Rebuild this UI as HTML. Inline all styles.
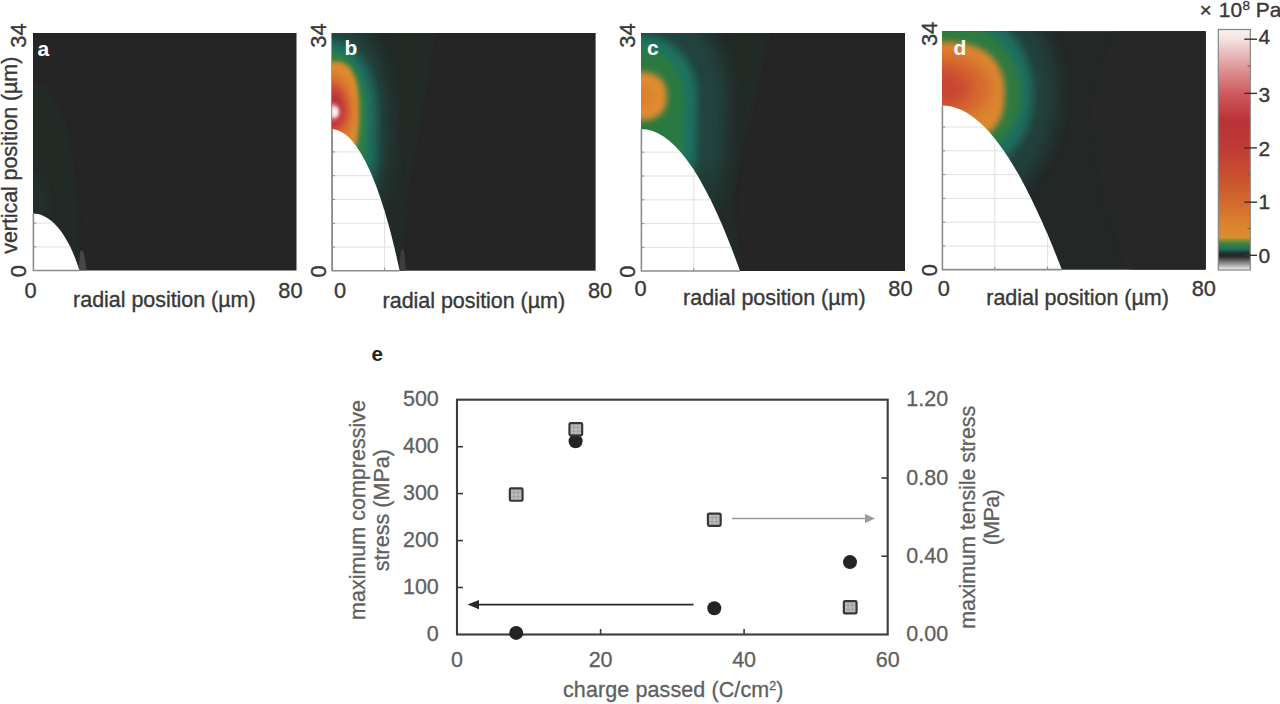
<!DOCTYPE html>
<html><head><meta charset="utf-8"><title>figure</title>
<style>
html,body{margin:0;padding:0;background:#fff;}
body{width:1280px;height:704px;overflow:hidden;font-family:"Liberation Sans",sans-serif;}
svg{display:block;position:absolute;left:0;top:0;}
text{font-family:"Liberation Sans",sans-serif;}
.t{font-size:21px;fill:#383838;stroke:#383838;stroke-width:0.35;}
.tk{font-size:21.8px;fill:#383838;stroke:#383838;stroke-width:0.35;}
.tt{font-size:21.5px;fill:#383838;stroke:#383838;stroke-width:0.35;}
.g{font-size:21.5px;fill:#606060;stroke:#606060;stroke-width:0.3;}
.pl{font-size:21px;font-weight:bold;fill:#fff;}
.grid{stroke:#e2e2e2;stroke-width:1;fill:none;}
.ax{stroke:#8c8c8c;stroke-width:1.6;fill:none;}
</style></head><body>
<svg width="1280" height="704" viewBox="0 0 1280 704">
<defs>
<clipPath id="ca"><rect x="33" y="33" width="263.5" height="237.5"/></clipPath>
<clipPath id="cb"><rect x="331.8" y="33" width="263.8" height="237.7"/></clipPath>
<clipPath id="cc"><rect x="641" y="33" width="264.0" height="238.0"/></clipPath>
<clipPath id="cd"><rect x="942" y="31.3" width="263.6" height="238.1"/></clipPath>
<clipPath id="domea"><path d="M33,213.6 C48.5,213.6 66.9,230.1 79.4,270.5 L33,270.5 Z"/></clipPath>
<clipPath id="domeb"><path d="M331.8,129.2 C354.4,129.2 379.0,173.4 399.6,270.7 L331.8,270.7 Z"/></clipPath>
<clipPath id="domec"><path d="M641,129 C674.0,129 706.5,176.8 740.0,271 L641,271 Z"/></clipPath>
<clipPath id="domed"><path d="M942,105.4 C981.9,105.4 1020.4,162.1 1061.8,269.6 L942,269.6 Z"/></clipPath>
<filter id="b05" x="-50%" y="-50%" width="200%" height="200%"><feGaussianBlur stdDeviation="0.5"/></filter>
<filter id="b1" x="-50%" y="-50%" width="200%" height="200%"><feGaussianBlur stdDeviation="0.8"/></filter>
<filter id="b15" x="-50%" y="-50%" width="200%" height="200%"><feGaussianBlur stdDeviation="1.5"/></filter>
<filter id="b2" x="-50%" y="-50%" width="200%" height="200%"><feGaussianBlur stdDeviation="2"/></filter>
<filter id="b3" x="-50%" y="-50%" width="200%" height="200%"><feGaussianBlur stdDeviation="3"/></filter>
<filter id="b4" x="-50%" y="-50%" width="200%" height="200%"><feGaussianBlur stdDeviation="4"/></filter>
<filter id="b6" x="-50%" y="-50%" width="200%" height="200%"><feGaussianBlur stdDeviation="6"/></filter>
<filter id="b8" x="-50%" y="-50%" width="200%" height="200%"><feGaussianBlur stdDeviation="8"/></filter>
<filter id="b14" x="-50%" y="-50%" width="200%" height="200%"><feGaussianBlur stdDeviation="14"/></filter>
<linearGradient id="fgb" gradientUnits="userSpaceOnUse" x1="0" y1="160" x2="0" y2="222"><stop offset="0" stop-color="#fff"/><stop offset="1" stop-color="#000"/></linearGradient>
<mask id="mb" maskUnits="userSpaceOnUse" x="300" y="0" width="320" height="320"><rect x="300" y="0" width="320" height="320" fill="url(#fgb)"/></mask>
<linearGradient id="fgc" gradientUnits="userSpaceOnUse" x1="0" y1="158" x2="0" y2="232"><stop offset="0" stop-color="#fff"/><stop offset="1" stop-color="#000"/></linearGradient>
<mask id="mc" maskUnits="userSpaceOnUse" x="600" y="0" width="320" height="320"><rect x="600" y="0" width="320" height="320" fill="url(#fgc)"/></mask>
<linearGradient id="cbar" x1="0" y1="0" x2="0" y2="1">
<stop offset="0" stop-color="#f9f1f1"/>
<stop offset="0.04" stop-color="#f4e1e1"/>
<stop offset="0.154" stop-color="#e09a9c"/>
<stop offset="0.266" stop-color="#cf5a5e"/>
<stop offset="0.378" stop-color="#b93238"/>
<stop offset="0.49" stop-color="#c03a35"/>
<stop offset="0.606" stop-color="#c85030"/>
<stop offset="0.718" stop-color="#d2692e"/>
<stop offset="0.813" stop-color="#dc832e"/>
<stop offset="0.866" stop-color="#da8e2f"/>
<stop offset="0.884" stop-color="#4f8a3a"/>
<stop offset="0.897" stop-color="#2f7f45"/>
<stop offset="0.915" stop-color="#1f6a5c"/>
<stop offset="0.93" stop-color="#22302e"/>
<stop offset="0.942" stop-color="#252525"/>
<stop offset="0.95" stop-color="#3c3c3c"/>
<stop offset="1" stop-color="#f4f4f4"/>
</linearGradient>
</defs>
<!-- panel a -->
<rect x="33" y="33" width="263.5" height="237.5" fill="#252525"/>
<g clip-path="url(#ca)">
<path d="M25,81 L33,81 Q55,86 67,130 Q76,172 78,240 L79,280 L25,280 Z" fill="#222928" filter="url(#b2)"/>
<path d="M48.0,206.0 L47.9,208.1 L47.5,210.1 L46.9,212.1 L46.0,214.0 L44.9,215.7 L43.6,217.3 L42.1,218.7 L40.5,219.9 L38.7,220.8 L36.9,221.5 L35.0,221.9 L33.0,222.0 L31.0,221.9 L29.1,221.5 L27.3,220.8 L25.5,219.9 L23.9,218.7 L22.4,217.3 L21.1,215.7 L20.0,214.0 L19.1,212.1 L18.5,210.1 L18.1,208.1 L18.0,206.0 L18.1,201.8 L18.5,197.7 L19.1,193.8 L20.0,190.0 L21.1,186.5 L22.4,183.4 L23.9,180.6 L25.5,178.3 L27.3,176.4 L29.1,175.1 L31.0,174.3 L33.0,174.0 L35.0,174.3 L36.9,175.1 L38.7,176.4 L40.5,178.3 L42.1,180.6 L43.6,183.4 L44.9,186.5 L46.0,190.0 L46.9,193.8 L47.5,197.7 L47.9,201.8 Z" fill="#202f2c" filter="url(#b4)"/>
<path d="M78.5,270.5 L80,252 Q82.5,247 84.5,256 L86.5,270.5 Z" fill="#474747" filter="url(#b05)"/>
</g>
<path d="M33,213.6 C48.5,213.6 66.9,230.1 79.4,270.5 L33,270.5 Z" fill="#fff"/>
<g clip-path="url(#domea)">
<line class="grid" x1="33" y1="246.9" x2="79.4" y2="246.9"/>
<line x1="33" y1="246.9" x2="36.2" y2="246.9" stroke="#8a8a8a" stroke-width="1"/>
<line class="grid" x1="33" y1="223.1" x2="79.4" y2="223.1"/>
<line x1="33" y1="223.1" x2="36.2" y2="223.1" stroke="#8a8a8a" stroke-width="1"/>
</g>
<path class="ax" d="M33.4,213.6 L33.4,270.5 L79.4,270.5"/>
<text class="tk" x="30.5" y="298.0" text-anchor="middle">0</text>
<text class="tk" x="290.4" y="298.0" text-anchor="middle">80</text>
<text class="tt" x="73.1" y="307.2" textLength="182.5" lengthAdjust="spacing">radial position (µm)</text>
<text class="tk" transform="translate(26.0,35.6) rotate(-90)" text-anchor="middle">34</text>
<text class="tk" transform="translate(26.0,271.3) rotate(-90)" text-anchor="middle">0</text>
<text class="pl" x="37.5" y="56">a</text>
<!-- panel b -->
<rect x="331.8" y="33" width="263.8" height="237.7" fill="#252525"/>
<g clip-path="url(#cb)">
<path d="M320,20 L436,20 L426,90 L406,200 L401,280 L320,280 Z" fill="#232a28" filter="url(#b2)"/>
<g mask="url(#mb)">
<path d="M388.8,113.5 L388.3,152.7 L386.9,191.1 L384.5,228.3 L381.2,263.5 L377.0,296.1 L372.1,325.6 L366.5,351.5 L360.3,373.3 L353.6,390.7 L346.6,403.3 L339.2,410.9 L331.8,413.5 L324.4,410.9 L317.0,403.3 L310.0,390.7 L303.3,373.3 L297.1,351.5 L291.5,325.6 L286.6,296.1 L282.4,263.5 L279.1,228.3 L276.7,191.1 L275.3,152.7 L274.8,113.5 L275.3,100.7 L276.7,88.1 L279.1,76.0 L282.4,64.5 L286.6,53.8 L291.5,44.2 L297.1,35.8 L303.3,28.6 L310.0,23.0 L317.0,18.8 L324.4,16.3 L331.8,15.5 L339.2,16.3 L346.6,18.8 L353.6,23.0 L360.3,28.6 L366.5,35.8 L372.1,44.2 L377.0,53.8 L381.2,64.5 L384.5,76.0 L386.9,88.1 L388.3,100.7 Z" fill="#21423c" filter="url(#b8)"/>
<path d="M376.8,113.5 L376.4,152.7 L375.3,191.1 L373.4,228.3 L370.8,263.5 L367.5,296.1 L363.6,325.6 L359.2,351.5 L354.3,373.3 L349.0,390.7 L343.4,403.3 L337.7,410.9 L331.8,413.5 L325.9,410.9 L320.2,403.3 L314.6,390.7 L309.3,373.3 L304.4,351.5 L300.0,325.6 L296.1,296.1 L292.8,263.5 L290.2,228.3 L288.3,191.1 L287.2,152.7 L286.8,113.5 L287.2,104.0 L288.3,94.6 L290.2,85.6 L292.8,77.0 L296.1,69.1 L300.0,61.9 L304.4,55.6 L309.3,50.3 L314.6,46.1 L320.2,43.0 L325.9,41.1 L331.8,40.5 L337.7,41.1 L343.4,43.0 L349.0,46.1 L354.3,50.3 L359.2,55.6 L363.6,61.9 L367.5,69.1 L370.8,77.0 L373.4,85.6 L375.3,94.6 L376.4,104.0 Z" fill="#1f6e60" filter="url(#b4)"/>
<path d="M366.8,113.5 L366.5,129.7 L365.6,145.6 L364.1,161.0 L362.1,175.5 L359.6,189.0 L356.5,201.2 L353.1,211.9 L349.3,220.9 L345.2,228.1 L340.9,233.3 L336.4,236.4 L331.8,237.5 L327.2,236.4 L322.7,233.3 L318.4,228.1 L314.3,220.9 L310.5,211.9 L307.1,201.2 L304.0,189.0 L301.5,175.5 L299.5,161.0 L298.0,145.6 L297.1,129.7 L296.8,113.5 L297.1,105.3 L298.0,97.2 L299.5,89.4 L301.5,82.0 L304.0,75.1 L307.1,69.0 L310.5,63.5 L314.3,58.9 L318.4,55.3 L322.7,52.6 L327.2,51.0 L331.8,50.5 L336.4,51.0 L340.9,52.6 L345.2,55.3 L349.3,58.9 L353.1,63.5 L356.5,69.0 L359.6,75.1 L362.1,82.0 L364.1,89.4 L365.6,97.2 L366.5,105.3 Z" fill="#2e8045" filter="url(#b3)"/>
</g>
<path d="M359.1,113.5 L358.9,125.2 L358.4,132.5 L357.6,138.7 L356.4,144.0 L354.9,148.6 L353.1,152.5 L351.0,155.9 L348.4,158.6 L345.5,160.8 L342.2,162.3 L338.2,163.2 L331.8,163.5 L325.4,163.2 L321.4,162.3 L318.1,160.8 L315.2,158.6 L312.6,155.9 L310.5,152.5 L308.7,148.6 L307.2,144.0 L306.0,138.7 L305.2,132.5 L304.7,125.2 L304.5,113.5 L304.7,101.4 L305.2,93.7 L306.0,87.3 L307.2,81.8 L308.7,77.0 L310.5,72.9 L312.6,69.4 L315.2,66.6 L318.1,64.4 L321.4,62.8 L325.4,61.8 L331.8,61.5 L338.2,61.8 L342.2,62.8 L345.5,64.4 L348.4,66.6 L351.0,69.4 L353.1,72.9 L354.9,77.0 L356.4,81.8 L357.6,87.3 L358.4,93.7 L358.9,101.4 Z" fill="#dd8b2e" filter="url(#b2)"/>
<path d="M352.8,113.5 L352.6,117.4 L352.1,121.3 L351.2,125.0 L350.0,128.5 L348.5,131.8 L346.6,134.7 L344.6,137.3 L342.3,139.5 L339.8,141.2 L337.2,142.5 L334.5,143.2 L331.8,143.5 L329.1,143.2 L326.4,142.5 L323.8,141.2 L321.3,139.5 L319.0,137.3 L317.0,134.7 L315.1,131.8 L313.6,128.5 L312.4,125.0 L311.5,121.3 L311.0,117.4 L310.8,113.5 L311.0,108.3 L311.5,103.1 L312.4,98.2 L313.6,93.5 L315.1,89.1 L317.0,85.2 L319.0,81.8 L321.3,78.9 L323.8,76.5 L326.4,74.9 L329.1,73.8 L331.8,73.5 L334.5,73.8 L337.2,74.9 L339.8,76.5 L342.3,78.9 L344.6,81.8 L346.6,85.2 L348.5,89.1 L350.0,93.5 L351.2,98.2 L352.1,103.1 L352.6,108.3 Z" fill="#d7702f" filter="url(#b4)"/>
<path d="M346.8,112.0 L346.7,114.6 L346.3,117.2 L345.7,119.7 L344.8,122.0 L343.7,124.2 L342.4,126.1 L340.9,127.9 L339.3,129.3 L337.5,130.5 L335.7,131.3 L333.8,131.8 L331.8,132.0 L329.8,131.8 L327.9,131.3 L326.1,130.5 L324.3,129.3 L322.7,127.9 L321.2,126.1 L319.9,124.2 L318.8,122.0 L317.9,119.7 L317.3,117.2 L316.9,114.6 L316.8,112.0 L316.9,108.3 L317.3,104.8 L317.9,101.3 L318.8,98.0 L319.9,95.0 L321.2,92.2 L322.7,89.8 L324.3,87.8 L326.1,86.1 L327.9,85.0 L329.8,84.2 L331.8,84.0 L333.8,84.2 L335.7,85.0 L337.5,86.1 L339.3,87.8 L340.9,89.8 L342.4,92.2 L343.7,95.0 L344.8,98.0 L345.7,101.3 L346.3,104.8 L346.7,108.3 Z" fill="#c83c38" filter="url(#b4)"/>
<path d="M342.3,110.5 L342.2,112.3 L341.9,114.1 L341.5,115.9 L340.9,117.5 L340.1,119.0 L339.2,120.4 L338.2,121.6 L337.1,122.6 L335.8,123.4 L334.5,124.0 L333.2,124.4 L331.8,124.5 L330.4,124.4 L329.1,124.0 L327.8,123.4 L326.6,122.6 L325.4,121.6 L324.4,120.4 L323.5,119.0 L322.7,117.5 L322.1,115.9 L321.7,114.1 L321.4,112.3 L321.3,110.5 L321.4,108.5 L321.7,106.6 L322.1,104.8 L322.7,103.0 L323.5,101.4 L324.4,99.9 L325.4,98.6 L326.6,97.5 L327.8,96.6 L329.1,96.0 L330.4,95.6 L331.8,95.5 L333.2,95.6 L334.5,96.0 L335.8,96.6 L337.1,97.5 L338.2,98.6 L339.2,99.9 L340.1,101.4 L340.9,103.0 L341.5,104.8 L341.9,106.6 L342.2,108.5 Z" fill="#b82f38" filter="url(#b3)"/>
<path d="M339.3,112.0 L339.2,113.0 L339.1,113.9 L338.8,114.9 L338.4,115.8 L338.0,116.6 L337.4,117.3 L336.8,118.0 L336.1,118.5 L335.3,118.9 L334.5,119.2 L333.6,119.4 L332.8,119.5 L332.0,119.4 L331.1,119.2 L330.3,118.9 L329.6,118.5 L328.8,118.0 L328.2,117.3 L327.6,116.6 L327.2,115.8 L326.8,114.9 L326.5,113.9 L326.4,113.0 L326.3,112.0 L326.4,111.0 L326.5,109.9 L326.8,108.9 L327.2,108.0 L327.6,107.1 L328.2,106.3 L328.8,105.7 L329.6,105.1 L330.3,104.6 L331.1,104.3 L332.0,104.1 L332.8,104.0 L333.6,104.1 L334.5,104.3 L335.3,104.6 L336.1,105.1 L336.8,105.7 L337.4,106.3 L338.0,107.1 L338.4,108.0 L338.8,108.9 L339.1,109.9 L339.2,111.0 Z" fill="#eeb2b4" filter="url(#b2)"/>
<path d="M338.0,112.0 L338.0,112.7 L337.9,113.3 L337.8,113.9 L337.6,114.5 L337.3,115.0 L337.1,115.5 L336.7,116.0 L336.4,116.3 L336.0,116.6 L335.6,116.8 L335.2,117.0 L334.8,117.0 L334.4,117.0 L334.0,116.8 L333.6,116.6 L333.2,116.3 L332.9,116.0 L332.5,115.5 L332.3,115.0 L332.0,114.5 L331.8,113.9 L331.7,113.3 L331.6,112.7 L331.6,112.0 L331.6,111.3 L331.7,110.7 L331.8,110.1 L332.0,109.5 L332.3,109.0 L332.5,108.5 L332.9,108.0 L333.2,107.7 L333.6,107.4 L334.0,107.2 L334.4,107.0 L334.8,107.0 L335.2,107.0 L335.6,107.2 L336.0,107.4 L336.4,107.7 L336.7,108.0 L337.1,108.5 L337.3,109.0 L337.6,109.5 L337.8,110.1 L337.9,110.7 L338.0,111.3 Z" fill="#fff4f4" filter="url(#b15)"/>
<path d="M399,270.7 L400.5,252 Q402.5,245 404.5,253 L406,270.7 Z" fill="#3c3c3c" filter="url(#b05)"/>
</g>
<path d="M331.8,129.2 C354.4,129.2 379.0,173.4 399.6,270.7 L331.8,270.7 Z" fill="#fff"/>
<g clip-path="url(#domeb)">
<line class="grid" x1="331.8" y1="247.1" x2="399.6" y2="247.1"/>
<line x1="331.8" y1="247.1" x2="335.0" y2="247.1" stroke="#8a8a8a" stroke-width="1"/>
<line class="grid" x1="331.8" y1="223.3" x2="399.6" y2="223.3"/>
<line x1="331.8" y1="223.3" x2="335.0" y2="223.3" stroke="#8a8a8a" stroke-width="1"/>
<line class="grid" x1="331.8" y1="199.5" x2="399.6" y2="199.5"/>
<line x1="331.8" y1="199.5" x2="335.0" y2="199.5" stroke="#8a8a8a" stroke-width="1"/>
<line class="grid" x1="331.8" y1="175.7" x2="399.6" y2="175.7"/>
<line x1="331.8" y1="175.7" x2="335.0" y2="175.7" stroke="#8a8a8a" stroke-width="1"/>
<line class="grid" x1="331.8" y1="151.9" x2="399.6" y2="151.9"/>
<line x1="331.8" y1="151.9" x2="335.0" y2="151.9" stroke="#8a8a8a" stroke-width="1"/>
<line class="grid" x1="384.6" y1="129.2" x2="384.6" y2="270.9"/>
<line x1="384.6" y1="267.7" x2="384.6" y2="270.9" stroke="#8a8a8a" stroke-width="1"/>
</g>
<path class="ax" d="M332.2,129.2 L332.2,270.7 L399.6,270.7"/>
<text class="tk" x="340" y="298.2" text-anchor="middle">0</text>
<text class="tk" x="600" y="298.2" text-anchor="middle">80</text>
<text class="tt" x="382.6" y="307.7" textLength="182.5" lengthAdjust="spacing">radial position (µm)</text>
<text class="tk" transform="translate(326.1,35.6) rotate(-90)" text-anchor="middle">34</text>
<text class="tk" transform="translate(326.1,271.5) rotate(-90)" text-anchor="middle">0</text>
<text class="pl" x="344.5" y="55">b</text>
<!-- panel c -->
<rect x="641" y="33" width="264.0" height="238.0" fill="#252525"/>
<g clip-path="url(#cc)">
<path d="M630,20 L772,20 L752,110 L732,200 L742,280 L630,280 Z" fill="#232a28" filter="url(#b2)"/>
<g mask="url(#mc)">
<path d="M727.0,95.0 L726.3,134.2 L724.1,172.6 L720.5,209.8 L715.5,245.0 L709.2,277.6 L701.8,307.1 L693.4,333.0 L684.0,354.8 L673.9,372.2 L663.3,384.8 L652.2,392.4 L641.0,395.0 L629.8,392.4 L618.7,384.8 L608.1,372.2 L598.0,354.8 L588.6,333.0 L580.2,307.1 L572.8,277.6 L566.5,245.0 L561.5,209.8 L557.9,172.6 L555.7,134.2 L555.0,95.0 L555.7,82.5 L557.9,70.2 L561.5,58.3 L566.5,47.0 L572.8,36.6 L580.2,27.1 L588.6,18.8 L598.0,11.9 L608.1,6.3 L618.7,2.3 L629.8,-0.2 L641.0,-1.0 L652.2,-0.2 L663.3,2.3 L673.9,6.3 L684.0,11.9 L693.4,18.8 L701.8,27.1 L709.2,36.6 L715.5,47.0 L720.5,58.3 L724.1,70.2 L726.3,82.5 Z" fill="#21423c" filter="url(#b8)"/>
<path d="M697.0,95.0 L696.5,134.2 L695.1,172.6 L692.7,209.8 L689.5,245.0 L685.4,277.6 L680.6,307.1 L675.1,333.0 L669.0,354.8 L662.4,372.2 L655.5,384.8 L648.3,392.4 L641.0,395.0 L633.7,392.4 L626.5,384.8 L619.6,372.2 L613.0,354.8 L606.9,333.0 L601.4,307.1 L596.6,277.6 L592.5,245.0 L589.3,209.8 L586.9,172.6 L585.5,134.2 L585.0,95.0 L585.5,87.2 L586.9,79.5 L589.3,72.0 L592.5,65.0 L596.6,58.5 L601.4,52.6 L606.9,47.4 L613.0,43.0 L619.6,39.6 L626.5,37.0 L633.7,35.5 L641.0,35.0 L648.3,35.5 L655.5,37.0 L662.4,39.6 L669.0,43.0 L675.1,47.4 L680.6,52.6 L685.4,58.5 L689.5,65.0 L692.7,72.0 L695.1,79.5 L696.5,87.2 Z" fill="#1f7262" filter="url(#b4)"/>
<path d="M683.5,95.0 L683.1,134.2 L682.1,172.6 L680.3,209.8 L677.8,245.0 L674.7,277.6 L671.1,307.1 L666.9,333.0 L662.2,354.8 L657.3,372.2 L652.0,384.8 L646.5,392.4 L641.0,395.0 L635.5,392.4 L630.0,384.8 L624.7,372.2 L619.8,354.8 L615.1,333.0 L610.9,307.1 L607.3,277.6 L604.2,245.0 L601.7,209.8 L599.9,172.6 L598.9,134.2 L598.5,95.0 L598.9,88.7 L599.9,82.6 L601.7,76.6 L604.2,71.0 L607.3,65.8 L610.9,61.1 L615.1,56.9 L619.8,53.4 L624.7,50.7 L630.0,48.6 L635.5,47.4 L641.0,47.0 L646.5,47.4 L652.0,48.6 L657.3,50.7 L662.2,53.4 L666.9,56.9 L671.1,61.1 L674.7,65.8 L677.8,71.0 L680.3,76.6 L682.1,82.6 L683.1,88.7 Z" fill="#2c7940" filter="url(#b3)"/>
</g>
<path d="M667.0,96.5 L666.8,100.7 L666.2,104.1 L665.3,107.1 L664.0,109.8 L662.4,112.2 L660.4,114.4 L658.0,116.2 L655.4,117.7 L652.5,118.9 L649.2,119.8 L645.6,120.3 L641.0,120.5 L636.4,120.3 L632.8,119.8 L629.5,118.9 L626.6,117.7 L624.0,116.2 L621.6,114.4 L619.6,112.2 L618.0,109.8 L616.7,107.1 L615.8,104.1 L615.2,100.7 L615.0,96.5 L615.2,92.2 L615.8,88.7 L616.7,85.7 L618.0,82.9 L619.6,80.4 L621.6,78.3 L624.0,76.4 L626.6,74.8 L629.5,73.6 L632.8,72.7 L636.4,72.2 L641.0,72.0 L645.6,72.2 L649.2,72.7 L652.5,73.6 L655.4,74.8 L658.0,76.4 L660.4,78.3 L662.4,80.4 L664.0,82.9 L665.3,85.7 L666.2,88.7 L666.8,92.2 Z" fill="#e08b32" filter="url(#b3)"/>
<path d="M653.0,97.0 L652.9,98.7 L652.6,100.4 L652.1,102.0 L651.4,103.5 L650.5,104.9 L649.5,106.2 L648.3,107.3 L647.0,108.3 L645.6,109.0 L644.1,109.6 L642.6,109.9 L641.0,110.0 L639.4,109.9 L637.9,109.6 L636.4,109.0 L635.0,108.3 L633.7,107.3 L632.5,106.2 L631.5,104.9 L630.6,103.5 L629.9,102.0 L629.4,100.4 L629.1,98.7 L629.0,97.0 L629.1,95.3 L629.4,93.6 L629.9,92.0 L630.6,90.5 L631.5,89.1 L632.5,87.8 L633.7,86.7 L635.0,85.7 L636.4,85.0 L637.9,84.4 L639.4,84.1 L641.0,84.0 L642.6,84.1 L644.1,84.4 L645.6,85.0 L647.0,85.7 L648.3,86.7 L649.5,87.8 L650.5,89.1 L651.4,90.5 L652.1,92.0 L652.6,93.6 L652.9,95.3 Z" fill="#dc802f" filter="url(#b4)"/>
</g>
<path d="M641,129 C674.0,129 706.5,176.8 740.0,271 L641,271 Z" fill="#fff"/>
<g clip-path="url(#domec)">
<line class="grid" x1="641" y1="247.4" x2="740.0" y2="247.4"/>
<line x1="641" y1="247.4" x2="644.2" y2="247.4" stroke="#8a8a8a" stroke-width="1"/>
<line class="grid" x1="641" y1="223.6" x2="740.0" y2="223.6"/>
<line x1="641" y1="223.6" x2="644.2" y2="223.6" stroke="#8a8a8a" stroke-width="1"/>
<line class="grid" x1="641" y1="199.8" x2="740.0" y2="199.8"/>
<line x1="641" y1="199.8" x2="644.2" y2="199.8" stroke="#8a8a8a" stroke-width="1"/>
<line class="grid" x1="641" y1="176.0" x2="740.0" y2="176.0"/>
<line x1="641" y1="176.0" x2="644.2" y2="176.0" stroke="#8a8a8a" stroke-width="1"/>
<line class="grid" x1="641" y1="152.2" x2="740.0" y2="152.2"/>
<line x1="641" y1="152.2" x2="644.2" y2="152.2" stroke="#8a8a8a" stroke-width="1"/>
<line class="grid" x1="693.8" y1="129" x2="693.8" y2="271.2"/>
<line x1="693.8" y1="268.0" x2="693.8" y2="271.2" stroke="#8a8a8a" stroke-width="1"/>
</g>
<path class="ax" d="M641.4,129 L641.4,271 L740.0,271"/>
<text class="tk" x="640.5" y="296.0" text-anchor="middle">0</text>
<text class="tk" x="900.4" y="296.0" text-anchor="middle">80</text>
<text class="tt" x="683.1" y="304.7" textLength="182.5" lengthAdjust="spacing">radial position (µm)</text>
<text class="tk" transform="translate(634.8,35.6) rotate(-90)" text-anchor="middle">34</text>
<text class="tk" transform="translate(634.8,271.8) rotate(-90)" text-anchor="middle">0</text>
<text class="pl" x="647" y="55">c</text>
<!-- panel d -->
<rect x="942" y="31.3" width="263.6" height="238.1" fill="#252525"/>
<g clip-path="url(#cd)">
<rect x="930" y="20" width="290" height="260" fill="#232827"/>
<path d="M1122,20 Q1088,95 1093,120 Q1100,200 1133,280 L1220,280 L1220,20 Z" fill="#272727" filter="url(#b2)"/>
<path d="M1057.0,95.0 L1056.0,111.3 L1053.1,127.4 L1048.2,142.8 L1041.6,157.5 L1033.2,171.1 L1023.3,183.4 L1012.0,194.2 L999.5,203.3 L986.0,210.5 L971.8,215.7 L957.0,218.9 L942.0,220.0 L927.0,218.9 L912.2,215.7 L898.0,210.5 L884.5,203.3 L872.0,194.2 L860.7,183.4 L850.8,171.1 L842.4,157.5 L835.8,142.8 L830.9,127.4 L828.0,111.3 L827.0,95.0 L828.0,78.7 L830.9,62.6 L835.8,47.2 L842.4,32.5 L850.8,18.9 L860.7,6.6 L872.0,-4.2 L884.5,-13.3 L898.0,-20.5 L912.2,-25.7 L927.0,-28.9 L942.0,-30.0 L957.0,-28.9 L971.8,-25.7 L986.0,-20.5 L999.5,-13.3 L1012.0,-4.2 L1023.3,6.6 L1033.2,18.9 L1041.6,32.5 L1048.2,47.2 L1053.1,62.6 L1056.0,78.7 Z" fill="#21403b" filter="url(#b8)"/>
<path d="M1033.0,95.0 L1032.3,107.4 L1030.0,118.7 L1026.4,129.5 L1021.3,139.4 L1015.0,148.6 L1007.4,156.8 L998.7,164.0 L989.0,170.0 L978.5,174.8 L967.1,178.2 L955.1,180.3 L942.0,181.0 L928.9,180.3 L916.9,178.2 L905.5,174.8 L895.0,170.0 L885.3,164.0 L876.6,156.8 L869.0,148.6 L862.7,139.4 L857.6,129.5 L854.0,118.7 L851.7,107.4 L851.0,95.0 L851.7,81.8 L854.0,69.6 L857.6,58.1 L862.7,47.5 L869.0,37.7 L876.6,28.9 L885.3,21.2 L895.0,14.8 L905.5,9.7 L916.9,6.0 L928.9,3.7 L942.0,3.0 L955.1,3.7 L967.1,6.0 L978.5,9.7 L989.0,14.8 L998.7,21.2 L1007.4,28.9 L1015.0,37.7 L1021.3,47.5 L1026.4,58.1 L1030.0,69.6 L1032.3,81.8 Z" fill="#1f6e60" filter="url(#b4)"/>
<path d="M1021.0,95.0 L1020.4,104.9 L1018.5,113.8 L1015.4,122.0 L1011.1,129.6 L1005.7,136.6 L999.2,142.8 L991.8,148.2 L983.5,152.7 L974.3,156.3 L964.5,158.9 L953.9,160.5 L942.0,161.0 L930.1,160.5 L919.5,158.9 L909.7,156.3 L900.5,152.7 L892.2,148.2 L884.8,142.8 L878.3,136.6 L872.9,129.6 L868.6,122.0 L865.5,113.8 L863.6,104.9 L863.0,95.0 L863.6,83.9 L865.5,74.0 L868.6,64.7 L872.9,56.2 L878.3,48.4 L884.8,41.4 L892.2,35.3 L900.5,30.3 L909.7,26.3 L919.5,23.3 L930.1,21.6 L942.0,21.0 L953.9,21.6 L964.5,23.3 L974.3,26.3 L983.5,30.3 L991.8,35.3 L999.2,41.4 L1005.7,48.4 L1011.1,56.2 L1015.4,64.7 L1018.5,74.0 L1020.4,83.9 Z" fill="#2e7a41" filter="url(#b3)"/>
<path d="M1004.5,95.0 L1004.1,104.8 L1002.8,112.0 L1000.7,118.2 L997.7,123.7 L993.9,128.6 L989.4,132.9 L984.0,136.5 L977.9,139.6 L971.0,141.9 L963.2,143.6 L954.3,144.7 L942.0,145.0 L929.7,144.7 L920.8,143.6 L913.0,141.9 L906.1,139.6 L900.0,136.5 L894.6,132.9 L890.1,128.6 L886.3,123.7 L883.3,118.2 L881.2,112.0 L879.9,104.8 L879.5,95.0 L879.9,84.6 L881.2,77.0 L883.3,70.4 L886.3,64.6 L890.1,59.4 L894.6,54.8 L900.0,51.0 L906.1,47.8 L913.0,45.3 L920.8,43.4 L929.7,42.4 L942.0,42.0 L954.3,42.4 L963.2,43.4 L971.0,45.3 L977.9,47.8 L984.0,51.0 L989.4,54.8 L993.9,59.4 L997.7,64.6 L1000.7,70.4 L1002.8,77.0 L1004.1,84.6 Z" fill="#dd892e" filter="url(#b3)"/>
<path d="M992.0,89.0 L991.6,93.3 L990.3,97.5 L988.2,101.6 L985.3,105.5 L981.7,109.1 L977.4,112.3 L972.4,115.2 L967.0,117.6 L961.1,119.5 L954.9,120.9 L948.5,121.7 L942.0,122.0 L935.5,121.7 L929.1,120.9 L922.9,119.5 L917.0,117.6 L911.6,115.2 L906.6,112.3 L902.3,109.1 L898.7,105.5 L895.8,101.6 L893.7,97.5 L892.4,93.3 L892.0,89.0 L892.4,84.2 L893.7,79.4 L895.8,74.8 L898.7,70.5 L902.3,66.5 L906.6,62.8 L911.6,59.6 L917.0,57.0 L922.9,54.8 L929.1,53.3 L935.5,52.3 L942.0,52.0 L948.5,52.3 L954.9,53.3 L961.1,54.8 L967.0,57.0 L972.4,59.6 L977.4,62.8 L981.7,66.5 L985.3,70.5 L988.2,74.8 L990.3,79.4 L991.6,84.2 Z" fill="#d5682f" filter="url(#b8)"/>
<path d="M969.0,88.0 L968.8,90.6 L968.1,93.2 L966.9,95.7 L965.4,98.0 L963.4,100.2 L961.1,102.1 L958.4,103.9 L955.5,105.3 L952.3,106.5 L949.0,107.3 L945.5,107.8 L942.0,108.0 L938.5,107.8 L935.0,107.3 L931.7,106.5 L928.5,105.3 L925.6,103.9 L922.9,102.1 L920.6,100.2 L918.6,98.0 L917.1,95.7 L915.9,93.2 L915.2,90.6 L915.0,88.0 L915.2,85.4 L915.9,82.8 L917.1,80.3 L918.6,78.0 L920.6,75.8 L922.9,73.9 L925.6,72.1 L928.5,70.7 L931.7,69.5 L935.0,68.7 L938.5,68.2 L942.0,68.0 L945.5,68.2 L949.0,68.7 L952.3,69.5 L955.5,70.7 L958.4,72.1 L961.1,73.9 L963.4,75.8 L965.4,78.0 L966.9,80.3 L968.1,82.8 L968.8,85.4 Z" fill="#c94432" filter="url(#b8)"/>
</g>
<path d="M942,105.4 C981.9,105.4 1020.4,162.1 1061.8,269.6 L942,269.6 Z" fill="#fff"/>
<g clip-path="url(#domed)">
<line class="grid" x1="942" y1="246.0" x2="1061.8" y2="246.0"/>
<line x1="942" y1="246.0" x2="945.2" y2="246.0" stroke="#8a8a8a" stroke-width="1"/>
<line class="grid" x1="942" y1="222.2" x2="1061.8" y2="222.2"/>
<line x1="942" y1="222.2" x2="945.2" y2="222.2" stroke="#8a8a8a" stroke-width="1"/>
<line class="grid" x1="942" y1="198.4" x2="1061.8" y2="198.4"/>
<line x1="942" y1="198.4" x2="945.2" y2="198.4" stroke="#8a8a8a" stroke-width="1"/>
<line class="grid" x1="942" y1="174.6" x2="1061.8" y2="174.6"/>
<line x1="942" y1="174.6" x2="945.2" y2="174.6" stroke="#8a8a8a" stroke-width="1"/>
<line class="grid" x1="942" y1="150.8" x2="1061.8" y2="150.8"/>
<line x1="942" y1="150.8" x2="945.2" y2="150.8" stroke="#8a8a8a" stroke-width="1"/>
<line class="grid" x1="942" y1="127.0" x2="1061.8" y2="127.0"/>
<line x1="942" y1="127.0" x2="945.2" y2="127.0" stroke="#8a8a8a" stroke-width="1"/>
<line class="grid" x1="994.8" y1="105.4" x2="994.8" y2="269.8"/>
<line x1="994.8" y1="266.6" x2="994.8" y2="269.8" stroke="#8a8a8a" stroke-width="1"/>
<line class="grid" x1="1047.6" y1="105.4" x2="1047.6" y2="269.8"/>
<line x1="1047.6" y1="266.6" x2="1047.6" y2="269.8" stroke="#8a8a8a" stroke-width="1"/>
</g>
<path class="ax" d="M942.4,105.4 L942.4,269.6 L1061.8,269.6"/>
<text class="tk" x="943.8" y="295.7" text-anchor="middle">0</text>
<text class="tk" x="1203.8" y="295.7" text-anchor="middle">80</text>
<text class="tt" x="986.3" y="304.7" textLength="182.5" lengthAdjust="spacing">radial position (µm)</text>
<text class="tk" transform="translate(936.5,33.9) rotate(-90)" text-anchor="middle">34</text>
<text class="tk" transform="translate(936.5,270.2) rotate(-90)" text-anchor="middle">0</text>
<text class="pl" x="953.5" y="54.5">d</text>
<text class="tt" transform="translate(17.3,253.7) rotate(-90)" textLength="197" lengthAdjust="spacing">vertical position (µm)</text>
<rect x="1218.3" y="29.5" width="32" height="240.5" fill="url(#cbar)" stroke="#858585" stroke-width="1.2"/>
<line x1="1244.3" y1="39.2" x2="1257" y2="39.2" stroke="#333" stroke-width="1.4"/>
<text class="t" x="1258.6" y="43.7">4</text>
<line x1="1244.3" y1="93.4" x2="1257" y2="93.4" stroke="#333" stroke-width="1.4"/>
<text class="t" x="1258.6" y="102.2">3</text>
<line x1="1244.3" y1="147.9" x2="1257" y2="147.9" stroke="#333" stroke-width="1.4"/>
<text class="t" x="1258.6" y="156.2">2</text>
<line x1="1244.3" y1="202.2" x2="1257" y2="202.2" stroke="#333" stroke-width="1.4"/>
<text class="t" x="1258.6" y="208.5">1</text>
<line x1="1244.3" y1="255.3" x2="1257" y2="255.3" stroke="#333" stroke-width="1.4"/>
<text class="t" x="1258.6" y="262.9">0</text>
<line x1="1247.5" y1="66" x2="1250.3" y2="66" stroke="#6a5a5a" stroke-width="1"/>
<line x1="1247.5" y1="120.5" x2="1250.3" y2="120.5" stroke="#6a5a5a" stroke-width="1"/>
<line x1="1247.5" y1="174.5" x2="1250.3" y2="174.5" stroke="#6a5a5a" stroke-width="1"/>
<line x1="1247.5" y1="228.5" x2="1250.3" y2="228.5" stroke="#6a5a5a" stroke-width="1"/>
<text class="t" x="1199.6" y="17.3">×</text>
<text class="t" x="1218.8" y="17.3">10<tspan dy="-7.5" dx="0.3" font-size="13.5">8</tspan><tspan dy="7.5" dx="0"> Pa</tspan></text>
<rect x="457" y="399.7" width="430.7" height="234.8" fill="none" stroke="#3c3c3c" stroke-width="2.1"/>
<text class="g" x="438.8" y="406.4" text-anchor="end">500</text>
<line x1="457" y1="446.7" x2="463" y2="446.7" stroke="#3a3a3a" stroke-width="1.6"/>
<text class="g" x="438.8" y="453.4" text-anchor="end">400</text>
<line x1="457" y1="493.6" x2="463" y2="493.6" stroke="#3a3a3a" stroke-width="1.6"/>
<text class="g" x="438.8" y="500.3" text-anchor="end">300</text>
<line x1="457" y1="540.6" x2="463" y2="540.6" stroke="#3a3a3a" stroke-width="1.6"/>
<text class="g" x="438.8" y="547.3" text-anchor="end">200</text>
<line x1="457" y1="587.5" x2="463" y2="587.5" stroke="#3a3a3a" stroke-width="1.6"/>
<text class="g" x="438.8" y="594.2" text-anchor="end">100</text>
<text class="g" x="438.8" y="641.2" text-anchor="end">0</text>
<text class="g" x="906.3" y="406.2">1.20</text>
<line x1="881.5" y1="478.0" x2="887.7" y2="478.0" stroke="#3a3a3a" stroke-width="1.6"/>
<text class="g" x="906.3" y="484.5">0.80</text>
<line x1="881.5" y1="556.2" x2="887.7" y2="556.2" stroke="#3a3a3a" stroke-width="1.6"/>
<text class="g" x="906.3" y="562.7">0.40</text>
<text class="g" x="906.3" y="641.0">0.00</text>
<text class="g" x="457.0" y="667" text-anchor="middle">0</text>
<line x1="600.6" y1="634.5" x2="600.6" y2="629" stroke="#3a3a3a" stroke-width="1.6"/>
<text class="g" x="600.6" y="667" text-anchor="middle">20</text>
<line x1="744.1" y1="634.5" x2="744.1" y2="629" stroke="#3a3a3a" stroke-width="1.6"/>
<text class="g" x="744.1" y="667" text-anchor="middle">40</text>
<text class="g" x="887.7" y="667" text-anchor="middle">60</text>
<text class="g" x="563" y="697" textLength="220.5" lengthAdjust="spacing">charge passed (C/cm<tspan dy="-7" font-size="12.5">2</tspan><tspan dy="7">)</tspan></text>
<text class="g" transform="translate(364.7,620) rotate(-90)" textLength="220" lengthAdjust="spacing">maximum compressive</text>
<text class="g" transform="translate(388.6,571.3) rotate(-90)" textLength="122.3" lengthAdjust="spacing">stress (MPa)</text>
<text class="g" transform="translate(975,628.8) rotate(-90)" textLength="223" lengthAdjust="spacing">maximum tensile stress</text>
<text class="g" transform="translate(999,545.2) rotate(-90)" textLength="55.8" lengthAdjust="spacing">(MPa)</text>
<text x="371.5" y="361" font-size="20.5" font-weight="bold" fill="#222">e</text>
<line x1="478" y1="604.6" x2="693.5" y2="604.6" stroke="#2a2a2a" stroke-width="1.6"/>
<path d="M467.5,604.6 L479,600 L479,609.2 Z" fill="#2a2a2a"/>
<line x1="732" y1="518.5" x2="866" y2="518.5" stroke="#9a9a9a" stroke-width="1.6"/>
<path d="M875,518.5 L865,514 L865,523 Z" fill="#9a9a9a"/>
<circle cx="516.2" cy="632.9" r="7" fill="#242424"/>
<circle cx="575.6" cy="441.2" r="7" fill="#242424"/>
<circle cx="714.3" cy="608.3" r="7" fill="#242424"/>
<circle cx="850" cy="562.1" r="7" fill="#242424"/>
<rect x="509.85" y="488.45" width="12.7" height="12.3" rx="1.3" fill="#bdbdbd" stroke="#363636" stroke-width="2.2"/>
<line x1="514.10" y1="489.45" x2="514.10" y2="499.75" stroke="#9a9a9a" stroke-width="0.8"/>
<line x1="510.85" y1="492.50" x2="521.55" y2="492.50" stroke="#9a9a9a" stroke-width="0.8"/>
<line x1="518.30" y1="489.45" x2="518.30" y2="499.75" stroke="#9a9a9a" stroke-width="0.8"/>
<line x1="510.85" y1="496.70" x2="521.55" y2="496.70" stroke="#9a9a9a" stroke-width="0.8"/>
<rect x="569.45" y="423.05" width="12.7" height="12.3" rx="1.3" fill="#bdbdbd" stroke="#363636" stroke-width="2.2"/>
<line x1="573.70" y1="424.05" x2="573.70" y2="434.35" stroke="#9a9a9a" stroke-width="0.8"/>
<line x1="570.45" y1="427.10" x2="581.15" y2="427.10" stroke="#9a9a9a" stroke-width="0.8"/>
<line x1="577.90" y1="424.05" x2="577.90" y2="434.35" stroke="#9a9a9a" stroke-width="0.8"/>
<line x1="570.45" y1="431.30" x2="581.15" y2="431.30" stroke="#9a9a9a" stroke-width="0.8"/>
<rect x="707.95" y="513.55" width="12.7" height="12.3" rx="1.3" fill="#bdbdbd" stroke="#363636" stroke-width="2.2"/>
<line x1="712.20" y1="514.55" x2="712.20" y2="524.85" stroke="#9a9a9a" stroke-width="0.8"/>
<line x1="708.95" y1="517.60" x2="719.65" y2="517.60" stroke="#9a9a9a" stroke-width="0.8"/>
<line x1="716.40" y1="514.55" x2="716.40" y2="524.85" stroke="#9a9a9a" stroke-width="0.8"/>
<line x1="708.95" y1="521.80" x2="719.65" y2="521.80" stroke="#9a9a9a" stroke-width="0.8"/>
<rect x="843.85" y="601.15" width="12.7" height="12.3" rx="1.3" fill="#bdbdbd" stroke="#363636" stroke-width="2.2"/>
<line x1="848.10" y1="602.15" x2="848.10" y2="612.45" stroke="#9a9a9a" stroke-width="0.8"/>
<line x1="844.85" y1="605.20" x2="855.55" y2="605.20" stroke="#9a9a9a" stroke-width="0.8"/>
<line x1="852.30" y1="602.15" x2="852.30" y2="612.45" stroke="#9a9a9a" stroke-width="0.8"/>
<line x1="844.85" y1="609.40" x2="855.55" y2="609.40" stroke="#9a9a9a" stroke-width="0.8"/>
</svg>
</body></html>
